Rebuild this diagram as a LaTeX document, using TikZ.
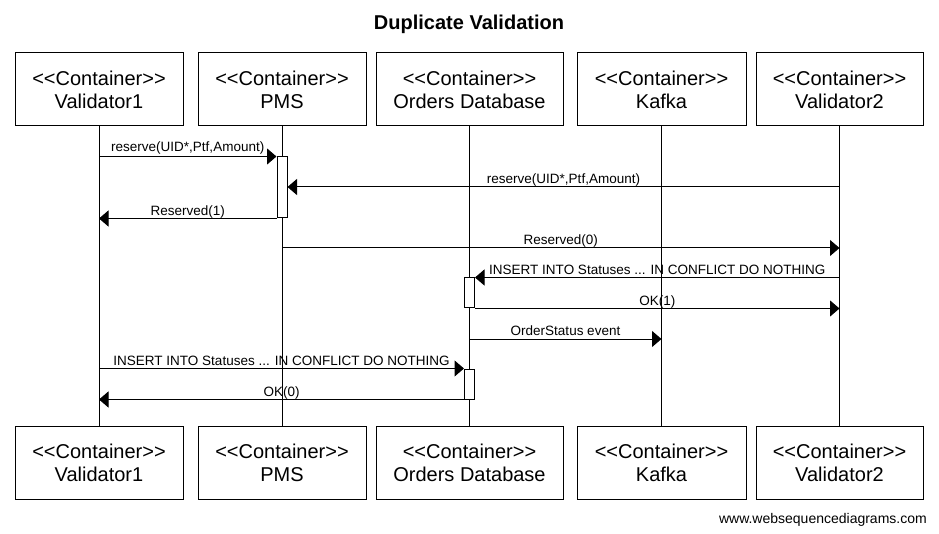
\documentclass[tikz,border=0pt]{standalone}
\usepackage{fontspec}
\setmainfont{Liberation Sans}
\usetikzlibrary{arrows.meta}
\newcommand{\cont}{<\kern0pt<Container>\kern0pt>}
\begin{document}
\begin{tikzpicture}[x=1pt,y=-1pt,
  part/.style={draw,line width=1pt,fill=white,minimum height=73pt,inner sep=0pt,align=center,font=\fontsize{20}{23}\selectfont},
  act/.style={draw,line width=1pt,fill=white,minimum width=10pt,inner sep=0pt},
  life/.style={line width=1pt},
  msg/.style={line width=1pt,-{Triangle[length=9.5pt,width=16pt]}},
  lbl/.style={midway,anchor=base,yshift=3pt,inner sep=0pt,font=\fontsize{13.5}{15}\selectfont}]
\useasboundingbox (0,0) rectangle (939,534);
% title
\node[anchor=base,inner sep=0pt,font=\fontsize{20}{24}\selectfont\bfseries] (title) at (469,30) {Duplicate Validation};
% participants top
\node[part,minimum width=168pt] (v1) at (99,89.5) {\cont\\Validator1};
\node[part,minimum width=168pt] (pms) at (282,89.5) {\cont\\PMS};
\node[part,minimum width=187pt] (odb) at (469.5,89.5) {\cont\\Orders Database};
\node[part,minimum width=169pt] (kaf) at (661.5,89.5) {\cont\\Kafka};
\node[part,minimum width=167pt] (v2) at (839.5,89.5) {\cont\\Validator2};
% participants bottom
\node[part,minimum width=168pt] (v1b) at (99,462.5) {\cont\\Validator1};
\node[part,minimum width=168pt] (pmsb) at (282,462.5) {\cont\\PMS};
\node[part,minimum width=187pt] (odbb) at (469.5,462.5) {\cont\\Orders Database};
\node[part,minimum width=169pt] (kafb) at (661.5,462.5) {\cont\\Kafka};
\node[part,minimum width=167pt] (v2b) at (839.5,462.5) {\cont\\Validator2};
% lifelines
\draw[life] (v1.south) -- (v1b.north);
\draw[life] (pms.south) -- (pmsb.north);
\draw[life] (odb.south) -- (odbb.north);
\draw[life] (kaf.south) -- (kafb.north);
\draw[life] (v2.south) -- (v2b.north);
% activations
\node[act,minimum height=61pt] (a1) at (282,187.5) {};
\node[act,minimum height=30pt] (a2) at (469.5,293) {};
\node[act,minimum height=30pt] (a3) at (469.5,384) {};
% y levels
\coordinate (y2) at (0,187);
\coordinate (y4) at (0,248);
\coordinate (y7) at (0,339);
% messages
\draw[msg] (v1 |- a1.north) -- (a1.north west) node[lbl,yshift=2pt] {reserve(UID*,Ptf,Amount)};
\draw[msg] (v2 |- y2) -- (a1.east |- y2) node[lbl] {reserve(UID*,Ptf,Amount)};
\draw[msg] (a1.south west) -- (v1 |- a1.south) node[lbl] {Reserved(1)};
\draw[msg] (pms |- y4) -- (v2 |- y4) node[lbl] {Reserved(0)};
\draw[msg] (v2 |- a2.north) -- (a2.north east) node[lbl] {INSERT INTO Statuses ... IN CONFLICT DO NOTHING};
\draw[msg] (a2.south east) -- (v2 |- a2.south) node[lbl] {OK(1)};
\draw[msg] (odb |- y7) -- (kaf |- y7) node[lbl] {OrderStatus event};
\draw[msg] (v1 |- a3.north) -- (a3.north west) node[lbl] {INSERT INTO Statuses ... IN CONFLICT DO NOTHING};
\draw[msg] (a3.south west) -- (v1 |- a3.south) node[lbl] {OK(0)};
% footer
\node[anchor=base east,inner sep=0pt,font=\fontsize{14}{16}\selectfont] (foot) at (927,523) {www.websequencediagrams.com};
\end{tikzpicture}
\end{document}
